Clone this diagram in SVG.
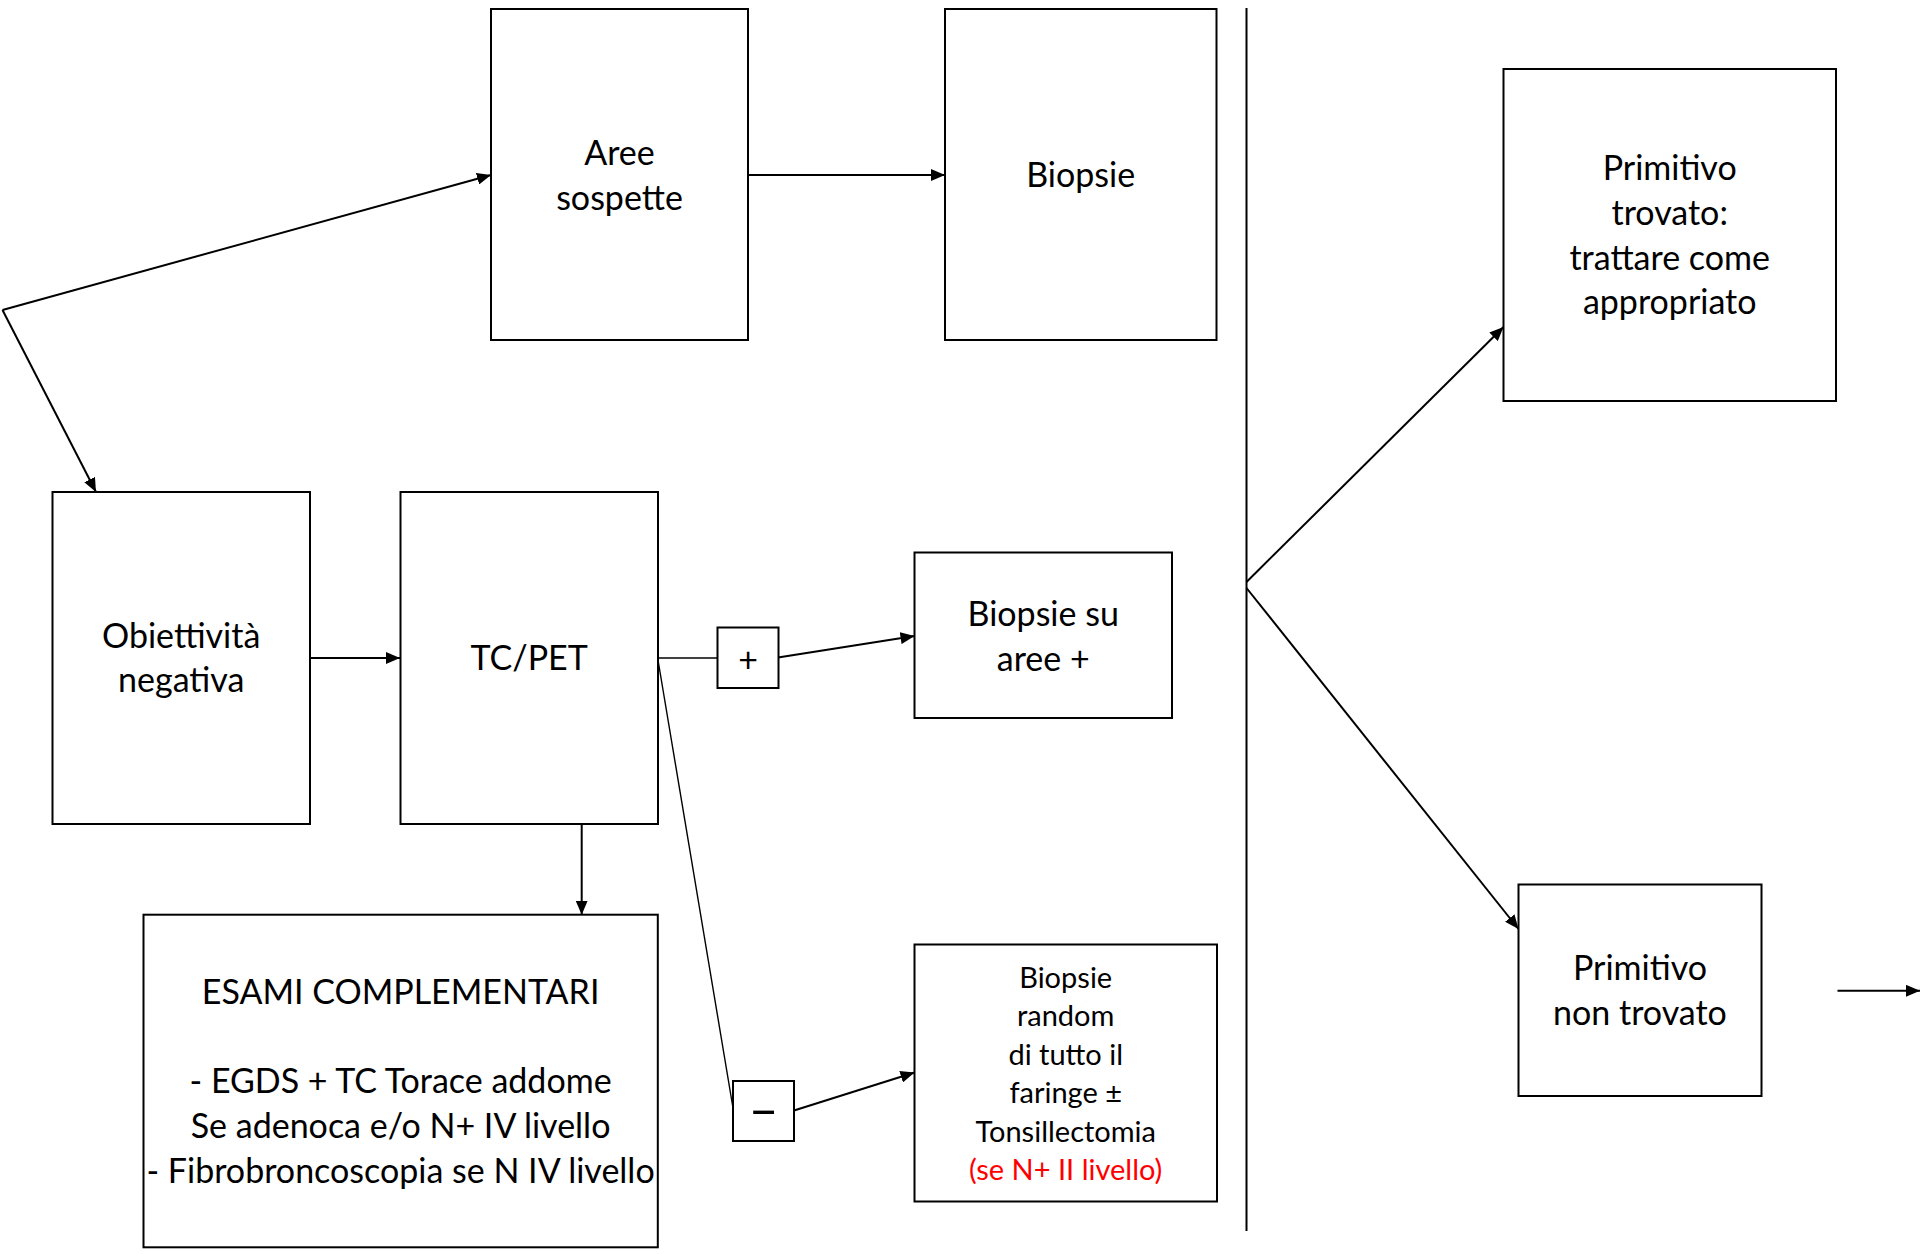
<svg xmlns="http://www.w3.org/2000/svg" width="1920" height="1254" viewBox="0 0 1920 1254">
  <style>
    .box { fill: #ffffff; stroke: #000000; stroke-width: 2; }
    .lbl { font-family: Lato, "Liberation Sans", sans-serif; font-size: 34px; fill: #000000; text-anchor: middle; }
    .sm { font-size: 29px; }
    .red { fill: #ff0000; }
    .wire { fill: none; stroke: #000000; stroke-width: 2; }
    .thin { stroke-width: 1.4; }
    .arrow { marker-end: url(#head); }
  </style>
  <defs>
    <marker id="head" viewBox="0 0 14 12" refX="14" refY="6" markerWidth="14" markerHeight="12" markerUnits="userSpaceOnUse" orient="auto">
      <path d="M0,0 L14,6 L0,12 Z" fill="#000000"/>
    </marker>
  </defs>

  <rect width="1920" height="1254" fill="#ffffff"/>

  <!-- divider between work-up and outcome -->
  <line x1="1246.5" y1="8" x2="1246.5" y2="1231" stroke="#000000" stroke-width="2"/>

  <!-- connectors -->
  <g id="connectors">
    <line class="wire arrow" x1="2.5" y1="310" x2="491" y2="175"/>
    <line class="wire arrow" x1="2.5" y1="310" x2="96" y2="492"/>
    <line class="wire arrow" x1="748" y1="175" x2="945" y2="175"/>
    <line class="wire arrow" x1="310" y1="658" x2="400" y2="658"/>
    <line class="wire thin" x1="658" y1="658" x2="717.5" y2="658"/>
    <line class="wire arrow" x1="778" y1="657.5" x2="914.5" y2="636"/>
    <line class="wire thin" x1="658" y1="660" x2="733" y2="1108"/>
    <line class="wire arrow" x1="794" y1="1110.5" x2="914.5" y2="1072.5"/>
    <line class="wire arrow" x1="581.7" y1="824" x2="581.7" y2="914.7"/>
    <line class="wire arrow" x1="1246.5" y1="582" x2="1503.5" y2="327"/>
    <line class="wire arrow" x1="1246.5" y1="588" x2="1518.5" y2="929"/>
    <line class="wire arrow" x1="1837.5" y1="990.8" x2="1920" y2="990.8"/>
  </g>

  <g id="aree-sospette">
    <rect class="box" x="491" y="9" width="257" height="331"/>
    <text class="lbl" x="619.5" y="165">Aree</text>
    <text class="lbl" x="619.5" y="210">sospette</text>
  </g>

  <g id="biopsie">
    <rect class="box" x="945" y="9" width="271.5" height="331"/>
    <text class="lbl" x="1080.7" y="187">Biopsie</text>
  </g>

  <g id="primitivo-trovato">
    <rect class="box" x="1503.5" y="69" width="332.5" height="332"/>
    <text class="lbl" x="1669.7" y="180">Primitivo</text>
    <text class="lbl" x="1669.7" y="225">trovato:</text>
    <text class="lbl" x="1669.7" y="270">trattare come</text>
    <text class="lbl" x="1669.7" y="314">appropriato</text>
  </g>

  <g id="obiettivita-negativa">
    <rect class="box" x="52.5" y="492" width="257.5" height="332"/>
    <text class="lbl" x="181.2" y="648">Obiettività</text>
    <text class="lbl" x="181.2" y="692">negativa</text>
  </g>

  <g id="tc-pet">
    <rect class="box" x="400.5" y="492" width="257.5" height="332"/>
    <text class="lbl" x="529.2" y="670">TC/PET</text>
  </g>

  <g id="esito-positivo">
    <rect class="box" x="717.5" y="627.5" width="61" height="60.5"/>
    <text class="lbl" x="748" y="672">+</text>
  </g>

  <g id="biopsie-aree-positive">
    <rect class="box" x="914.5" y="552.5" width="257.5" height="165.5"/>
    <text class="lbl" x="1043.2" y="625.5">Biopsie su</text>
    <text class="lbl" x="1043.2" y="670.5">aree +</text>
  </g>

  <g id="esito-negativo">
    <rect class="box" x="733" y="1081" width="61" height="60"/>
    <text class="lbl" x="763.5" y="1128" style="font-size:52px">–</text>
  </g>

  <g id="biopsie-random">
    <rect class="box" x="914.5" y="944.5" width="302.5" height="257"/>
    <text class="lbl sm" x="1065.7" y="988">Biopsie</text>
    <text class="lbl sm" x="1065.7" y="1026.4">random</text>
    <text class="lbl sm" x="1065.7" y="1064.8">di tutto il</text>
    <text class="lbl sm" x="1065.7" y="1103.2">faringe ±</text>
    <text class="lbl sm" x="1065.7" y="1141.6">Tonsillectomia</text>
    <text class="lbl sm red" x="1065.7" y="1180">(se N+ II livello)</text>
  </g>

  <g id="esami-complementari">
    <rect class="box" x="143.5" y="914.7" width="514.3" height="332.6"/>
    <text class="lbl" x="400.6" y="1004">ESAMI COMPLEMENTARI</text>
    <text class="lbl" x="400.6" y="1093">- EGDS + TC Torace addome</text>
    <text class="lbl" x="400.6" y="1138">Se adenoca e/o N+ IV livello</text>
    <text class="lbl" x="400.6" y="1183">- Fibrobroncoscopia se N IV livello</text>
  </g>

  <g id="primitivo-non-trovato">
    <rect class="box" x="1518.5" y="884.5" width="243" height="211.5"/>
    <text class="lbl" x="1640" y="980">Primitivo</text>
    <text class="lbl" x="1640" y="1025">non trovato</text>
  </g>
</svg>
